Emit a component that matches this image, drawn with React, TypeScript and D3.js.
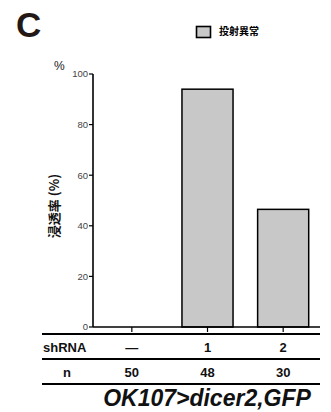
import React from "react";
import { scaleBand, scaleLinear } from "d3";

const groups = ["—", "1", "2"];
const counts = ["50", "48", "30"];
const values = [0, 94, 46.5];
const yTicks = [0, 20, 40, 60, 80, 100];

const font = "Arial, 'Liberation Sans', 'Noto Sans CJK JP', sans-serif";
const cjk = "'Noto Sans CJK JP', 'Noto Sans CJK SC', sans-serif";

function App() {
  const x = scaleBand<string>()
    .domain(groups)
    .range([94, 321])
    .paddingInner(0.325)
    .paddingOuter(0.1625);
  const y = scaleLinear().domain([0, 100]).range([327, 74]);

  return (
    <svg
      width={331}
      height={412}
      style={{ position: "absolute", left: 0, top: 0, background: "#fff" }}
    >
      <text x={16} y={37} fontFamily={font} fontWeight="bold" fontSize={35} fill="#231815">
        C
      </text>

      {/* legend */}
      <rect x={196.5} y={26.5} width={14} height={11} fill="#c8c8c8" stroke="#000" strokeWidth={1.6} />
      <text x={219} y={35} fontFamily={cjk} fontWeight="bold" fontSize={10} fill="#000">
        投射異常
      </text>

      {/* y axis */}
      <text x={54} y={70} fontFamily={font} fontSize={12} fill="#222">%</text>
      <line x1={93} x2={93} y1={y(100)} y2={y(0)} stroke="#000" strokeWidth={1.6} />
      {yTicks.map((t) => (
        <g key={t}>
          <line x1={89} x2={93} y1={y(t)} y2={y(t)} stroke="#000" strokeWidth={1.2} />
          <text
            x={88}
            y={y(t) + 3.3}
            textAnchor="end"
            fontFamily={font}
            fontSize={9.5}
            fill="#444"
          >
            {t}
          </text>
        </g>
      ))}
      <text
        transform={`translate(59,206) rotate(-90)`}
        textAnchor="middle"
        fontFamily={cjk}
        fontWeight="bold"
        fontSize={13}
        fill="#111"
      >
        浸透率 (%)
      </text>

      {/* bars */}
      {groups.map((g, i) =>
        values[i] > 0 ? (
          <rect
            key={g}
            x={x(g)}
            y={y(values[i])}
            width={x.bandwidth()}
            height={y(0) - y(values[i])}
            fill="#c8c8c8"
            stroke="#000"
            strokeWidth={1.5}
          />
        ) : null
      )}

      {/* x axis */}
      <line x1={93} x2={320} y1={y(0)} y2={y(0)} stroke="#000" strokeWidth={1.6} />
      {groups.map((g) => {
        const cx = (x(g) ?? 0) + x.bandwidth() / 2;
        return <line key={g} x1={cx} x2={cx} y1={y(0)} y2={y(0) + 5} stroke="#000" strokeWidth={1.2} />;
      })}

      {/* table */}
      <line x1={42} x2={320} y1={334} y2={334} stroke="#000" strokeWidth={1.8} />
      <line x1={42} x2={320} y1={359} y2={359} stroke="#000" strokeWidth={1.8} />
      <line x1={42} x2={320} y1={384} y2={384} stroke="#000" strokeWidth={1.8} />
      <text x={43} y={352} fontFamily={font} fontWeight="bold" fontSize={13} fill="#111">
        shRNA
      </text>
      <text x={67} y={377} textAnchor="middle" fontFamily={font} fontWeight="bold" fontSize={13} fill="#111">
        n
      </text>
      {groups.map((g, i) => {
        const cx = (x(g) ?? 0) + x.bandwidth() / 2;
        return (
          <g key={g}>
            <text x={cx} y={352} textAnchor="middle" fontFamily={font} fontWeight="bold" fontSize={13} fill="#111">
              {g}
            </text>
            <text x={cx} y={377} textAnchor="middle" fontFamily={font} fontWeight="bold" fontSize={13} fill="#111">
              {counts[i]}
            </text>
          </g>
        );
      })}
      <text
        x={207}
        y={406}
        textAnchor="middle"
        fontFamily={font}
        fontWeight="bold"
        fontStyle="italic"
        fontSize={23}
        fill="#111"
      >
        OK107&gt;dicer2,GFP
      </text>
    </svg>
  );
}

export default App;
